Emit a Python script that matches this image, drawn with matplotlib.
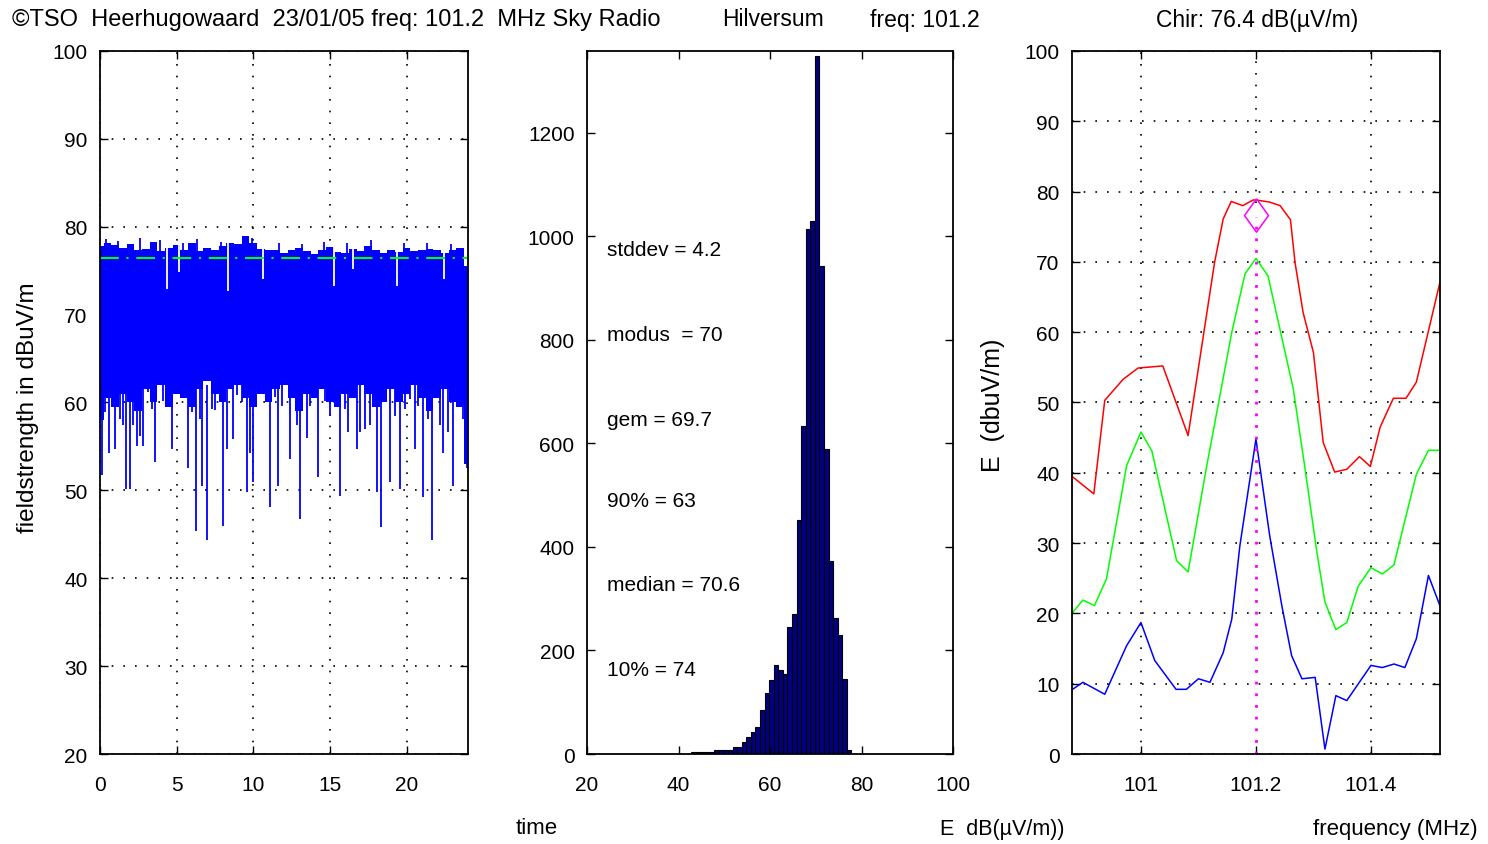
import numpy as np
import matplotlib
matplotlib.use('Agg')
import matplotlib.pyplot as plt

plt.rcParams['font.family'] = ['Liberation Sans', 'DejaVu Sans']
plt.rcParams['font.size'] = 15

# --- left panel: field strength vs time (hours) ---
chir = 76.4
band_t = np.arange(0, 24.5, 0.5)
band_upper = [77.8, 78.2, 77.9, 77.6, 78.0, 77.4, 77.5, 78.3, 77.2, 77.6,
              77.9, 77.3, 78.1, 77.2, 77.6, 77.4, 77.8, 78.2, 78.0, 78.9,
              78.1, 77.5, 77.3, 77.4, 77.0, 77.3, 77.6, 77.2, 76.9, 77.3,
              77.7, 77.1, 77.0, 77.5, 77.2, 77.8, 77.3, 77.0, 77.4, 77.1,
              77.6, 77.2, 77.3, 77.5, 77.4, 77.0, 77.3, 77.6, 75.5]
band_lower = [58.0, 60.5, 59.5, 61.0, 60.0, 59.0, 61.5, 60.0, 62.0, 59.5,
              61.0, 60.5, 59.5, 61.5, 62.5, 61.0, 60.0, 61.5, 62.0, 60.5,
              59.5, 61.0, 60.0, 61.5, 62.0, 60.5, 59.0, 61.0, 60.5, 61.5,
              60.0, 59.5, 61.0, 60.5, 62.0, 61.0, 59.5, 60.0, 61.5, 60.0,
              61.0, 62.0, 60.5, 59.0, 60.5, 61.5, 60.0, 59.5, 53.0]
# upward spikes above the band (time, maximum)
peak_t = [0.4, 1.2, 2.6, 3.9, 5.4, 6.3, 7.9, 9.4, 9.9, 11.7, 13.2, 14.6, 16.1, 17.7, 19.8, 21.3, 22.9]
peak_v = [78.6, 78.4, 78.7, 78.5, 78.2, 78.6, 78.3, 79.0, 78.7, 78.1, 78.0, 78.3, 78.2, 78.5, 78.1, 78.2, 78.0]
# downward spikes (time, minimum)
spike_t = [0.11, 0.61, 0.98, 1.70, 1.96, 2.39, 2.83, 3.59, 4.67, 5.76,
           6.26, 6.63, 6.96, 8.04, 8.70, 9.57, 10.0, 11.09, 11.63, 13.04,
           13.48, 14.24, 15.65, 16.74, 18.04, 18.30, 18.91, 19.57, 20.54, 21.09,
           21.63, 22.39, 23.04, 23.91,
           0.33, 1.30, 1.52, 2.17, 2.61, 3.15, 3.37, 4.13, 5.11, 5.98,
           6.52, 7.28, 7.50, 8.26, 8.91, 9.24, 9.78, 10.76, 11.41, 11.85,
           12.39, 12.83, 13.70, 14.67, 15.00, 15.43, 15.98, 16.20, 16.96, 17.28,
           17.61, 18.59, 19.24, 19.89, 20.22, 20.76, 21.41, 22.17, 22.72, 23.26,
           23.70]
spike_v = [51.7, 54.3, 54.7, 50.1, 50.1, 55.1, 55.1, 53.2, 54.7, 52.6,
           45.4, 50.5, 44.3, 46.0, 55.8, 49.8, 50.9, 48.1, 50.5, 46.7,
           56.0, 51.5, 49.4, 54.7, 49.8, 45.8, 50.9, 50.2, 54.7, 49.2,
           44.3, 54.3, 50.5, 52.6,
           58.9, 58.1, 57.4, 57.4, 56.2, 61.2, 59.3, 60.2, 61.5, 58.9,
           58.1, 59.3, 59.1, 54.7, 60.8, 60.0, 54.3, 62.1, 60.6, 59.6,
           53.6, 57.4, 59.6, 60.2, 58.5, 60.4, 59.3, 56.6, 56.6, 57.0,
           57.4, 61.9, 58.5, 59.3, 60.4, 59.6, 58.1, 57.4, 56.6, 59.6,
           58.1]
# short dips at the top of the band
dip_t = [4.35, 5.17, 8.37, 10.65, 15.28, 16.52, 19.39, 22.43]
dip_v = [72.9, 74.8, 72.7, 74.0, 73.3, 75.2, 73.3, 74.0]

# --- middle panel: histogram ---
bin_centers = np.arange(43.3, 78.3, 1.0)
bin_counts = [3, 3, 3, 4, 4, 8, 8, 8, 8, 13, 14, 23, 32, 42, 53, 85, 117, 143,
              172, 162, 155, 245, 270, 452, 634, 1014, 1029, 1349, 942, 589,
              372, 262, 230, 145, 8]
stats = ['stddev = 4.2', 'modus  = 70', 'gem = 69.7', '90% = 63',
         'median = 70.6', '10% = 74']
stats_y = [974, 810, 647, 489, 327, 164]

# --- right panel: spectrum ---
red_f = [100.88, 100.918, 100.937, 100.969, 100.995, 101.038, 101.082, 101.128,
         101.143, 101.157, 101.177, 101.195, 101.201, 101.224, 101.242, 101.26,
         101.268, 101.282, 101.30, 101.317, 101.337, 101.358, 101.38, 101.399,
         101.416, 101.439, 101.461, 101.479, 101.52]
red_v = [39.5, 37.0, 50.3, 53.3, 54.9, 55.2, 45.3, 69.9, 76.1, 78.6, 78.0, 78.8,
         78.8, 78.5, 78.0, 76.0, 69.9, 62.8, 57.1, 44.3, 40.1, 40.5, 42.3, 40.9,
         46.5, 50.6, 50.6, 52.9, 67.1]
green_f = [100.881, 100.899, 100.919, 100.94, 100.975, 101.0, 101.019, 101.062,
           101.082, 101.114, 101.158, 101.181, 101.2, 101.221, 101.265, 101.285,
           101.306, 101.32, 101.339, 101.358, 101.378, 101.4, 101.42, 101.44,
           101.479, 101.5, 101.52]
green_v = [20.1, 21.9, 21.1, 24.9, 41.0, 45.8, 43.1, 27.5, 25.9, 40.8, 60.0,
           68.3, 70.5, 68.0, 51.9, 40.8, 28.7, 21.6, 17.7, 18.7, 23.9, 26.5,
           25.6, 26.9, 39.8, 43.2, 43.2]
blue_f = [100.881, 100.899, 100.937, 100.975, 101.0, 101.024, 101.061, 101.079,
          101.1, 101.12, 101.143, 101.158, 101.172, 101.2, 101.224, 101.245,
          101.262, 101.28, 101.303, 101.32, 101.339, 101.358, 101.4, 101.42,
          101.44, 101.459, 101.479, 101.5, 101.52]
blue_v = [9.2, 10.2, 8.5, 15.4, 18.7, 13.3, 9.2, 9.2, 10.7, 10.2, 14.4, 19.2,
          29.6, 44.8, 31.0, 21.1, 14.0, 10.7, 10.9, 0.7, 8.3, 7.6, 12.6, 12.3,
          12.8, 12.3, 16.4, 25.4, 21.1]

grid_ls = (0, (1, 6))
diamond = [(0, 1), (0.72, 0), (0, -1), (-0.72, 0), (0, 1)]


def style(ax, xpad=15, ypad=9):
    ax.tick_params(direction='in', top=True, right=True, length=6, width=1)
    ax.tick_params(axis='x', pad=xpad)
    ax.tick_params(axis='y', pad=ypad)
    for s in ax.spines.values():
        s.set_linewidth(1.3)


fig = plt.figure(figsize=(14.88, 8.45), dpi=100)

ax1 = fig.add_axes([0.0672, 0.1065, 0.2473, 0.8320])
ax1.set_axisbelow(True)
ax1.fill_between(band_t, band_lower, band_upper, step='mid', color='blue', lw=0)
ax1.vlines(spike_t, spike_v, 62, color='blue', lw=1.3)
ax1.vlines(peak_t, 77, peak_v, color='blue', lw=1.3)
ax1.vlines(dip_t, dip_v, 78.2, color='white', lw=1.3)
ax1.axhline(chir, color=(0, 1, 0), lw=1.5, ls=(0, (9, 3.7, 1, 3.7)))
ax1.set_xlim(0, 24)
ax1.set_ylim(20, 100)
ax1.set_xticks([0, 5, 10, 15, 20])
ax1.set_yticks(range(20, 101, 10))
ax1.grid(True, color='black', ls=grid_ls, lw=1.2)
style(ax1)

ax2 = fig.add_axes([0.3945, 0.1065, 0.2460, 0.8320])
ax2.bar(bin_centers, bin_counts, width=1.0, color='#000080', edgecolor='black', lw=0.8)
for label, y in zip(stats, stats_y):
    ax2.text(24.4, y, label, va='center', ha='left', fontsize=15)
ax2.set_xlim(20, 100)
ax2.set_ylim(0, 1358)
ax2.set_xticks([20, 40, 60, 80, 100])
ax2.set_yticks(range(0, 1201, 200))
style(ax2)

ax3 = fig.add_axes([0.7204, 0.1065, 0.2473, 0.8320])
ax3.set_axisbelow(True)
ax3.plot(red_f, red_v, color='red', lw=1.1)
ax3.plot(green_f, green_v, color=(0, 1, 0), lw=1.1)
ax3.plot(blue_f, blue_v, color='blue', lw=1.1)
ax3.plot([101.2, 101.2], [0, chir], color='magenta', ls=(0, (1, 3.2)), lw=2)
ax3.plot([101.2, 101.2], [chir + 2, 100], color='black', ls=grid_ls, lw=1.2)
ax3.plot([101.2], [chir + 0.3], marker=diamond, ms=24, mfc='none', mec='magenta', mew=1.1)
ax3.set_xlim(100.88, 101.52)
ax3.set_ylim(0, 100)
ax3.set_xticks([101, 101.2, 101.4])
ax3.set_xticklabels(['101', '101.2', '101.4'])
ax3.set_yticks(range(0, 101, 10))
ax3.grid(True, color='black', ls=grid_ls, lw=1.2)
ax3.get_xgridlines()[1].set_visible(False)
style(ax3)

# header and labels
H = 845.0
W = 1488.0
fig.text(12 / W, 1 - 20 / H, '\u00a9TSO  Heerhugowaard  23/01/05 freq: 101.2  MHz Sky Radio',
         va='center', ha='left', fontsize=17)
fig.text(722 / W, 1 - 20 / H, 'Hilversum', va='center', ha='left', fontsize=16.5)
fig.text(870 / W, 1 - 20 / H, 'freq: 101.2', va='center', ha='left', fontsize=16.5)
fig.text(1257 / W, 1 - 20 / H, 'Chir: 76.4 dB(\u00b5V/m)', va='center', ha='center', fontsize=16.5)
fig.text(28 / W, 1 - 408 / H, 'fieldstrength in dBuV/m', rotation=90, va='center', ha='center',
         fontsize=17.5)
fig.text(537 / W, 1 - 829 / H, 'time', va='center', ha='center', fontsize=16)
fig.text(940 / W, 1 - 830 / H, 'E  dB(\u00b5V/m))', va='center', ha='left', fontsize=15.5)
fig.text(1478 / W, 1 - 830 / H, 'frequency (MHz)', va='center', ha='right', fontsize=16)
fig.text(993 / W, 1 - 405 / H, 'E  (dbuV/m)', rotation=90, va='center', ha='center', fontsize=18)

fig.savefig('out.png', dpi=100)
